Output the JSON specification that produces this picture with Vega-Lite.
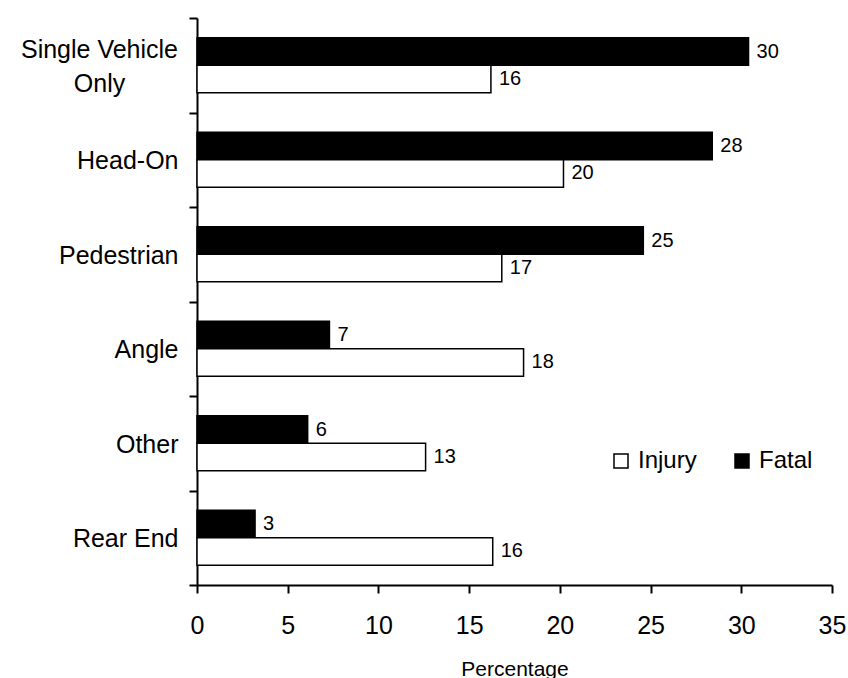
{
  "$schema": "https://vega.github.io/schema/vega-lite/v6.json",
  "autosize": {"type": "none"},
  "width": 635,
  "height": 567,
  "padding": {"left": 197, "top": 18, "right": 16, "bottom": 93},
  "background": "white",
  "config": {
    "view": {"stroke": null},
    "font": "Liberation Sans",
    "axis": {
      "domainColor": "black",
      "domainWidth": 2,
      "tickColor": "black",
      "tickWidth": 2,
      "tickSize": 8,
      "labelColor": "black",
      "titleColor": "black",
      "grid": false
    }
  },
  "data": {
    "values": [
      {"type": "Single Vehicle Only", "severity": "Fatal", "pct": 30.4},
      {"type": "Single Vehicle Only", "severity": "Injury", "pct": 16.2},
      {"type": "Head-On", "severity": "Fatal", "pct": 28.4},
      {"type": "Head-On", "severity": "Injury", "pct": 20.2},
      {"type": "Pedestrian", "severity": "Fatal", "pct": 24.6},
      {"type": "Pedestrian", "severity": "Injury", "pct": 16.8},
      {"type": "Angle", "severity": "Fatal", "pct": 7.3},
      {"type": "Angle", "severity": "Injury", "pct": 18.0},
      {"type": "Other", "severity": "Fatal", "pct": 6.1},
      {"type": "Other", "severity": "Injury", "pct": 12.6},
      {"type": "Rear End", "severity": "Fatal", "pct": 3.2},
      {"type": "Rear End", "severity": "Injury", "pct": 16.3}
    ]
  },
  "encoding": {
    "y": {
      "field": "type",
      "type": "nominal",
      "sort": ["Single Vehicle Only", "Head-On", "Pedestrian", "Angle", "Other", "Rear End"],
      "scale": {"paddingInner": 0, "paddingOuter": 0},
      "axis": {
        "title": null,
        "tickBand": "extent",
        "labelFontSize": 25,
        "labelLineHeight": 34,
        "labelExpr": "datum.value == 'Single Vehicle Only' ? ['Single Vehicle', 'Only'] : datum.value",
        "labelAlign": {"condition": {"test": "datum.value == 'Single Vehicle Only'", "value": "center"}, "value": "right"},
        "labelPadding": {"condition": {"test": "datum.value == 'Single Vehicle Only'", "value": 90}, "value": 11},
        "labelOffset": {"condition": {"test": "datum.value == 'Single Vehicle Only'", "value": -16}, "value": 1}
      }
    },
    "yOffset": {
      "field": "severity",
      "sort": ["Fatal", "Injury"],
      "scale": {"paddingInner": 0, "paddingOuter": 0.72}
    },
    "x": {
      "field": "pct",
      "type": "quantitative",
      "scale": {"domain": [0, 35], "nice": false},
      "axis": {
        "values": [0, 5, 10, 15, 20, 25, 30, 35],
        "labelFontSize": 25,
        "labelBaseline": "alphabetic",
        "labelPadding": 40,
        "labelFlush": false,
        "title": "Percentage",
        "titleFontSize": 21,
        "titleFontWeight": "normal",
        "titleBaseline": "alphabetic",
        "titleY": 90
      }
    }
  },
  "layer": [
    {
      "mark": {"type": "bar", "stroke": "black", "strokeWidth": 1.5},
      "encoding": {
        "color": {
          "field": "severity",
          "type": "nominal",
          "scale": {"domain": ["Injury", "Fatal"], "range": ["white", "black"]},
          "legend": {
            "orient": "none",
            "legendX": 412,
            "legendY": 431,
            "direction": "horizontal",
            "title": null,
            "symbolType": "square",
            "symbolSize": 196,
            "symbolStrokeColor": "black",
            "symbolStrokeWidth": 1.5,
            "labelFontSize": 24,
            "labelColor": "black",
            "labelOffset": 5,
            "columnPadding": 33
          }
        }
      }
    },
    {
      "mark": {"type": "text", "align": "left", "baseline": "middle", "dx": 8, "fontSize": 20, "color": "black"},
      "encoding": {
        "text": {"field": "pct", "type": "quantitative", "format": ".0f"}
      }
    }
  ]
}
